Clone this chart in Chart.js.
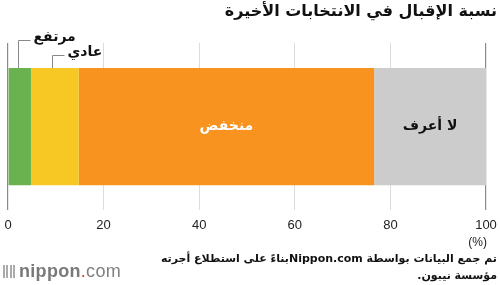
<!DOCTYPE html>
<html>
<head>
<meta charset="utf-8">
<script src="https://cdn.jsdelivr.net/npm/chart.js@4/dist/chart.umd.min.js"></script>
<style>
  html, body { margin: 0; padding: 0; background: #fff; }
  #wrap { position: relative; width: 500px; height: 285px; overflow: hidden; }
  #chart { position: absolute; left: 0; top: 0; }
  .t { position: absolute; font-family: "DejaVu Sans", sans-serif; color: #111; white-space: nowrap; }
  #title { right: 3px; top: 1px; font-size: 16px; font-weight: bold; direction: rtl; }
  #unit { right: 13px; top: 235px; font-family: "Liberation Sans", sans-serif; font-size: 12px; color: #222; }
  #note { right: 3px; top: 250px; font-size: 11px; font-weight: bold; direction: rtl; text-align: right; line-height: 17px; }
  #logo { left: 3px; top: 261px; font-family: "Liberation Sans", sans-serif; font-size: 18px; color: #808080; letter-spacing: 0.3px; }
  #logo b { font-weight: bold; color: #7a7a7a; }
  #logo .dot { color: #e03c31; }
  #logo .bars { display: inline-block; width: 12px; height: 13px; margin-right: 4px; vertical-align: -1px;
    background: repeating-linear-gradient(90deg, #aaa 0 2px, transparent 2px 3.5px); }
</style>
</head>
<body>
<div id="wrap">
  <canvas id="chart" width="500" height="285"></canvas>
  <div class="t" id="title">نسبة الإقبال في الانتخابات الأخيرة</div>
  <div class="t" id="unit">(%)</div>
  <div class="t" id="note">تم جمع البيانات بواسطة Nippon.comبناءً على استطلاع أجرته<br>مؤسسة نيبون.</div>
  <div class="t" id="logo"><span class="bars"></span><b>nippon</b><span class="dot">.</span>com</div>
</div>
<script>
// القيم المقروءة من الرسم (%)
const categories = ["الإقبال"];
const seriesNames = ["مرتفع", "عادي", "منخفض", "لا أعرف"];
const seriesValues = [4.8, 10.0, 61.8, 23.4];
const seriesColors = ["#6ab150", "#f7c723", "#f7931e", "#cccccc"];
const xTicks = [0, 20, 40, 60, 80, 100];

const arabicFont = '"DejaVu Sans", sans-serif';

// نصوص داخل الأشرطة ونصوص الإشارة للأجزاء الصغيرة
const labelPlugin = {
  id: "segmentLabels",
  afterDatasetsDraw(chart) {
    const ctx = chart.ctx;
    const xs = chart.scales.x;
    let cum = 0;
    ctx.save();
    ctx.direction = "rtl";
    seriesValues.forEach((v, i) => {
      const bar = chart.getDatasetMeta(i).data[0];
      const top = bar.y - bar.height / 2;
      if (i <= 1) {
        // خط إشارة ونص فوق الشريط
        const lx = Math.round(xs.getPixelForValue(cum + v * 0.45)) + 0.5;
        const ly = i === 0 ? 40.5 : 55.5;
        ctx.strokeStyle = "#888";
        ctx.lineWidth = 1;
        ctx.beginPath();
        ctx.moveTo(lx, top);
        ctx.lineTo(lx, ly);
        ctx.lineTo(lx + 12, ly);
        ctx.stroke();
        ctx.fillStyle = "#111";
        ctx.font = "bold 14px " + arabicFont;
        ctx.textAlign = "left";
        ctx.textBaseline = "middle";
        ctx.fillText(seriesNames[i], lx + 15, ly - 3);
      } else {
        ctx.fillStyle = i === 2 ? "#fff" : "#111";
        ctx.font = "bold 14px " + arabicFont;
        ctx.textAlign = "center";
        ctx.textBaseline = "middle";
        ctx.fillText(seriesNames[i], bar.x - (bar.x - bar.base) / 2, bar.y);
      }
      cum += v;
    });
    ctx.restore();
  }
};

new Chart(document.getElementById("chart"), {
  type: "bar",
  data: {
    labels: categories,
    datasets: seriesNames.map((name, i) => ({
      label: name,
      data: [seriesValues[i]],
      backgroundColor: seriesColors[i],
      borderWidth: 0,
      barPercentage: 1,
      categoryPercentage: 0.7,
    })),
  },
  options: {
    indexAxis: "y",
    responsive: false,
    animation: false,
    layout: { padding: { left: 8, right: 14, top: 43, bottom: 45 } },
    plugins: { legend: { display: false }, tooltip: { enabled: false } },
    scales: {
      x: {
        stacked: true,
        min: 0,
        max: 100,
        afterBuildTicks: (axis) => { axis.ticks = xTicks.map(v => ({ value: v })); },
        afterFit: (axis) => { axis.paddingLeft = 0; axis.paddingRight = 0; },
        grid: {
          drawTicks: false,
          color: (c) => (c.tick && (c.tick.value === 0 || c.tick.value === 100)) ? "#8a8a8a" : "#dcdcdc",
          lineWidth: (c) => (c.tick && (c.tick.value === 0 || c.tick.value === 100)) ? 1.2 : 1,
        },
        border: { display: false },
        ticks: { padding: 7, color: "#222", font: { family: '"Liberation Sans", sans-serif', size: 13 } },
      },
      y: { stacked: true, display: false },
    },
  },
  plugins: [labelPlugin],
});
</script>
</body>
</html>
